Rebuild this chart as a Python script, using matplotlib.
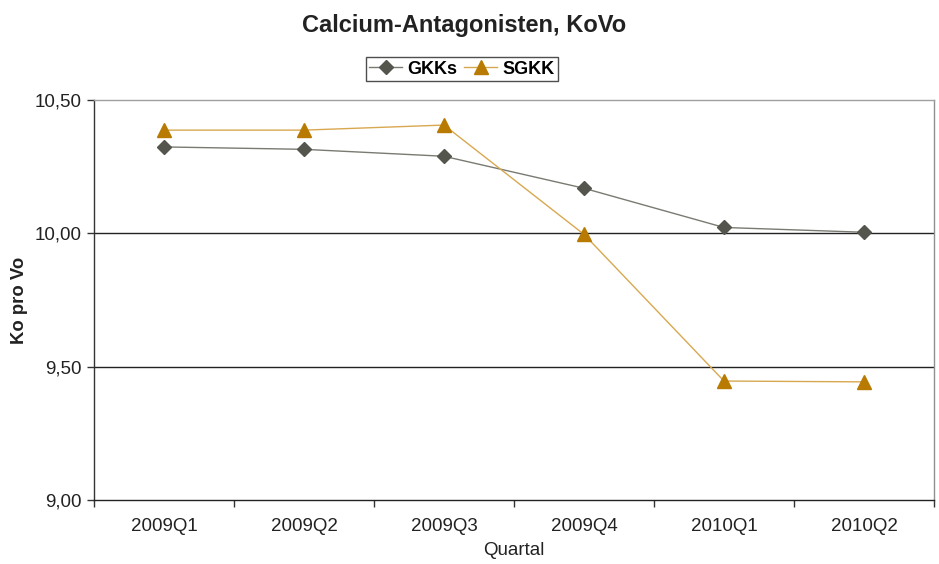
import matplotlib
matplotlib.use('Agg')
import matplotlib.pyplot as plt
from matplotlib.ticker import FuncFormatter

plt.rcParams['font.family'] = ['Liberation Sans', 'DejaVu Sans']

quarters = ['2009Q1', '2009Q2', '2009Q3', '2009Q4', '2010Q1', '2010Q2']
gkks = [10.324, 10.315, 10.289, 10.169, 10.022, 10.004]
sgkk = [10.387, 10.387, 10.406, 9.996, 9.446, 9.443]

fig = plt.figure(figsize=(9.39, 5.64), dpi=100)
ax = fig.add_axes([0.1001, 0.1135, 0.8946, 0.7092])

x = list(range(len(quarters)))
ax.plot(x, gkks, color='#7a7a72', linewidth=1.0, marker='D', markersize=7,
        markerfacecolor='#54554d', markeredgecolor='#54554d', label='GKKs')
ax.plot(x, sgkk, color='#d8a850', linewidth=1.0, marker='^', markersize=10,
        markerfacecolor='#b87a00', markeredgecolor='#b87a00', label='SGKK')

ax.set_xlim(-0.5, len(quarters) - 0.5)
ax.set_ylim(9.0, 10.5)
ax.set_yticks([9.0, 9.5, 10.0, 10.5])
ax.yaxis.set_major_formatter(FuncFormatter(lambda v, p: f'{v:.2f}'.replace('.', ',')))
ax.set_xticks(x)
ax.set_xticklabels(quarters)
ax.set_xticks([i - 0.5 for i in range(len(quarters) + 1)], minor=True)
ax.tick_params(axis='x', which='major', length=0, pad=13, labelsize=13.5, colors='#222222')
ax.tick_params(axis='x', which='minor', length=5, width=1, color='#333333')
ax.tick_params(axis='y', length=5, width=1, labelsize=13.5, colors='#222222', pad=4)
ax.tick_params(axis='y', color='#333333')

for yv in [9.5, 10.0]:
    ax.axhline(yv, color='#222222', linewidth=1.0, zorder=1)

ax.spines['top'].set_color('#a0a0a0')
ax.spines['right'].set_color('#909090')
ax.spines['left'].set_color('#333333')
ax.spines['bottom'].set_color('#222222')
for s in ax.spines.values():
    s.set_linewidth(1.0)

ax.set_xlabel('Quartal', fontsize=13.5, color='#222222', labelpad=5)
ax.set_ylabel('Ko pro Vo', fontsize=13.3, fontweight='bold', color='#222222', labelpad=5)

fig.text(0.494, 0.955, 'Calcium-Antagonisten, KoVo', ha='center', va='center',
         fontsize=17, fontweight='bold', color='#222222')

leg = ax.legend(loc='center', bbox_to_anchor=(0.438, 1.077), ncol=2, frameon=True,
                fancybox=False, edgecolor='#222222', prop={'weight': 'bold', 'size': 13},
                handlelength=1.8, handletextpad=0.3, columnspacing=0.4,
                borderpad=0.2, borderaxespad=0)
leg.get_frame().set_linewidth(1.0)

fig.savefig('out.png', dpi=100)
